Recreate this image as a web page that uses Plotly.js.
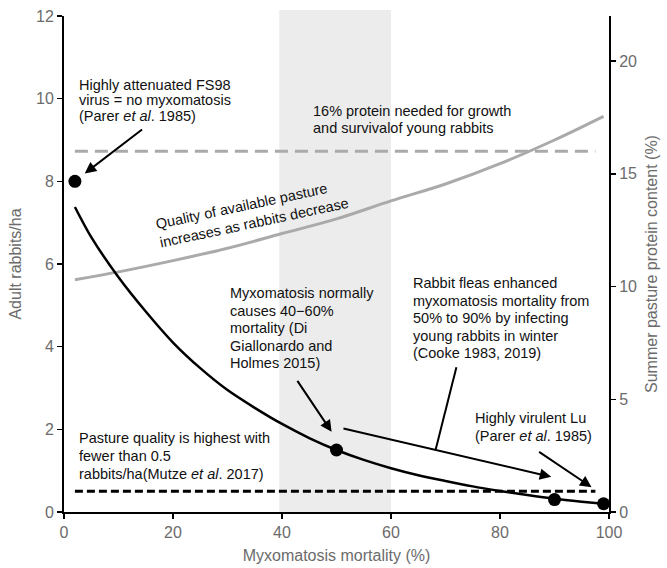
<!DOCTYPE html>
<html>
<head>
<meta charset="utf-8">
<script src="https://cdn.plot.ly/plotly-3.0.1.min.js"></script>
<style>html,body{margin:0;padding:0;background:#fff;}#chart{width:667px;height:568px;}</style>
</head>
<body>
<div id="chart"></div>
<script>
// ---- Data ----
// Rabbit density curve (adult rabbits/ha) vs myxomatosis mortality (%)
const rabbitCurveX = [2, 5, 10, 15, 20, 25, 30, 35, 40, 45, 50, 55, 60, 65, 70, 75, 80, 85, 90, 95, 99];
const rabbitCurveY = [7.38, 6.65, 5.68, 4.85, 4.1, 3.48, 2.95, 2.52, 2.13, 1.79, 1.5, 1.26, 1.06, 0.89, 0.75, 0.62, 0.51, 0.41, 0.32, 0.25, 0.2];
// Observed points
const pointsX = [2, 50, 90, 99];
const pointsY = [8, 1.5, 0.3, 0.2];
// Summer pasture protein content (%) curve
const proteinCurveX = [2, 10, 20, 30, 40, 50, 60, 70, 80, 90, 99];
const proteinCurveY = [10.3, 10.65, 11.15, 11.7, 12.35, 13.0, 13.8, 14.55, 15.45, 16.5, 17.55];
// Thresholds
const proteinThreshold = 16;      // % protein needed
const rabbitThreshold = 0.5;      // rabbits/ha
const thresholdX = [2, 97.5];
// Usual mortality band (%)
const bandX = [39.5, 60];
// Ticks
const xTicks = [0, 20, 40, 60, 80, 100];
const rabbitTicks = [0, 2, 4, 6, 8, 10, 12];
const proteinTicks = [0, 5, 10, 15, 20];

// ---- Text ----
const txtFS98 = ["Highly attenuated FS98", "virus = no myxomatosis", "(Parer <i>et al</i>. 1985)"];
const txtProtein = ["16% protein needed for growth", "and survivalof young rabbits"];
const txtQuality = "Quality of available pasture<br>increases as rabbits decrease";
const txtNormal = ["Myxomatosis normally", "causes 40\u221260%", "mortality (Di", "Giallonardo and", "Holmes 2015)"];
const txtFleas = ["Rabbit fleas enhanced", "myxomatosis mortality from", "50% to 90% by infecting", "young rabbits in winter", "(Cooke 1983, 2019)"];
const txtLu = ["Highly virulent Lu", "(Parer <i>et al</i>. 1985)"];
const txtPasture = ["Pasture quality is highest with", "fewer than 0.5", "rabbits/ha(Mutze <i>et al</i>. 2017)"];

const FONT = "Liberation Sans, Arial, Helvetica, sans-serif";
const annFont = {family: FONT, size: 14.5, color: "#111"};
const grey = "#6b6b6b";

function textBlock(lines, x, y, spacing) {
  return lines.map((t, i) => ({
    x: x, y: y, xref: "x", yref: "y2", text: t, showarrow: false,
    xanchor: "left", yanchor: "middle", yshift: -i * spacing, font: annFont
  }));
}
function arrow(hx, hy, tx, ty) {
  return {x: hx, y: hy, ax: tx, ay: ty, xref: "x", yref: "y2", axref: "x", ayref: "y2",
    text: "", showarrow: true, arrowhead: 2, arrowsize: 1.15, arrowwidth: 2, arrowcolor: "#000",
    standoff: 0, startstandoff: 0};
}

const traces = [
  {x: proteinCurveX, y: proteinCurveY, yaxis: "y", mode: "lines", line: {color: "#aaaaaa", width: 3, shape: "spline"}, hoverinfo: "skip"},
  {x: thresholdX, y: thresholdX.map(() => proteinThreshold), yaxis: "y", mode: "lines", line: {color: "#aaaaaa", width: 3, dash: "13px,7px"}, hoverinfo: "skip"},
  {x: thresholdX, y: thresholdX.map(() => rabbitThreshold), yaxis: "y2", mode: "lines", line: {color: "#000", width: 3, dash: "8px,4px"}, hoverinfo: "skip"},
  {x: rabbitCurveX, y: rabbitCurveY, yaxis: "y2", mode: "lines", line: {color: "#000", width: 2.5, shape: "spline", smoothing: 0.8}, hoverinfo: "skip"},
  {x: pointsX, y: pointsY, yaxis: "y2", mode: "markers", marker: {color: "#000", size: 13}, cliponaxis: false, hoverinfo: "skip"}
];

const annotations = [].concat(
  textBlock(txtFS98, 2.46, 10.34, 15.5),
  textBlock(txtProtein, 45.36, 9.70, 17),
  textBlock(txtNormal, 30.13, 5.29, 17.5),
  textBlock(txtFleas, 63.6, 5.53, 17.5),
  textBlock(txtLu, 75.0, 2.27, 18.3),
  textBlock(txtPasture, 2.46, 1.78, 17.7),
  [{x: 34.6, y: 7.21, xref: "x", yref: "y2", text: txtQuality, showarrow: false, textangle: -12,
    align: "left", xanchor: "center", yanchor: "middle", font: annFont},
   arrow(3.8, 8.19, 14.6, 9.28),
   arrow(49.1, 1.94, 42.64, 3.21),
   arrow(89.4, 0.85, 51.0, 2.03),
   arrow(96.8, 0.60, 86.9, 1.48)]
);

const layout = {
  width: 667, height: 568, autosize: false,
  margin: {l: 64, r: 58, t: 16, b: 56, pad: 0},
  paper_bgcolor: "#fff", plot_bgcolor: "#fff",
  showlegend: false,
  font: {family: FONT, color: grey, size: 16},
  xaxis: {
    range: [0, 100], tickvals: xTicks, ticks: "outside", ticklen: 5, tickwidth: 1.5, tickcolor: "#000",
    showline: true, linecolor: "#000", linewidth: 2, showgrid: false, zeroline: false,
    tickfont: {family: FONT, size: 16, color: grey},
    title: {text: "Myxomatosis mortality (%)", font: {family: FONT, size: 16, color: grey}, standoff: 10}
  },
  yaxis: {
    range: [0, 22], tickvals: proteinTicks, side: "right", anchor: "x",
    ticks: "outside", ticklen: 5, tickwidth: 1.5, tickcolor: "#000",
    showline: true, linecolor: "#000", linewidth: 2, showgrid: false, zeroline: false,
    tickfont: {family: FONT, size: 16, color: grey},
    title: {text: "Summer pasture protein content (%)", font: {family: FONT, size: 16, color: grey}, standoff: 10}
  },
  yaxis2: {
    range: [0, 12], tickvals: rabbitTicks, side: "left", overlaying: "y", anchor: "x",
    ticks: "outside", ticklen: 5, tickwidth: 1.5, tickcolor: "#000",
    showline: true, linecolor: "#000", linewidth: 2, showgrid: false, zeroline: false,
    tickfont: {family: FONT, size: 16, color: grey},
    title: {text: "Adult rabbits/ha", font: {family: FONT, size: 16, color: grey}, standoff: 10}
  },
  shapes: [
    {type: "rect", xref: "x", yref: "paper", x0: bandX[0], x1: bandX[1], y0: 0, y1: 1.012,
     fillcolor: "#ececec", line: {width: 0}, layer: "below"},
    {type: "line", xref: "x", yref: "y2", x0: 72.0, y0: 3.50, x1: 68.2, y1: 1.51,
     line: {color: "#000", width: 2}}
  ],
  annotations: annotations
};

Plotly.newPlot("chart", traces, layout, {displayModeBar: false, staticPlot: true});
</script>
</body>
</html>
